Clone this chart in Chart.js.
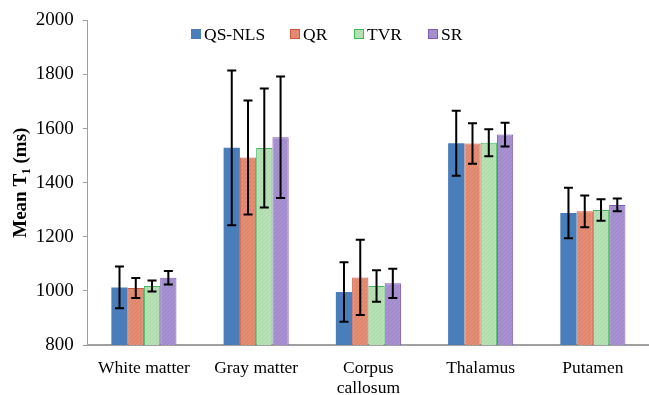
<!DOCTYPE html>
<html>
<head>
<meta charset="utf-8">
<script src="https://cdn.jsdelivr.net/npm/chart.js@4.4.0/dist/chart.umd.min.js"></script>
<style>
html,body{margin:0;padding:0;background:#ffffff;}
#wrap{width:649px;height:395px;position:relative;}
</style>
</head>
<body>
<div id="wrap"><canvas id="c" width="649" height="395"></canvas></div>
<script>
const categories = ["White matter", "Gray matter", ["Corpus", "callosum"], "Thalamus", "Putamen"];
const seriesNames = ["QS-NLS", "QR", "TVR", "SR"];
const qsnlsMean = [1013, 1529, 996, 1546, 1288];
const qsnlsErr  = [77, 286, 110, 120, 93];
const qrMean    = [1011, 1493, 1050, 1545, 1294];
const qrErr     = [37, 211, 139, 75, 59];
const tvrMean   = [1018, 1528, 1018, 1548, 1299];
const tvrErr    = [20, 220, 58, 50, 40];
const srMean    = [1049, 1568, 1028, 1578, 1318];
const srErr     = [25, 225, 54, 44, 24];
const yTicks    = [800, 1000, 1200, 1400, 1600, 1800, 2000];

const fills   = ["#4a7ebb", "#e38e74", "#b7e1b4", "#a791d0"];
const hatches = [null, "#da7c62", "#a5d9a4", "#9a83c6"];
const borders = ["#4a7ebb", "#d0573f", "#3fb85e", "#7c5bb5"];
const means = [qsnlsMean, qrMean, tvrMean, srMean];
const errs  = [qsnlsErr, qrErr, tvrErr, srErr];

const SERIF = "'Liberation Serif', serif";

function makePattern(base, line) {
  if (!line) return base;
  const c = document.createElement('canvas');
  c.width = 4; c.height = 4;
  const g = c.getContext('2d');
  g.fillStyle = base; g.fillRect(0, 0, 4, 4);
  g.strokeStyle = line; g.lineWidth = 0.8;
  g.beginPath();
  g.moveTo(0, 4); g.lineTo(4, 0);
  g.moveTo(-1, 1); g.lineTo(1, -1);
  g.moveTo(3, 5); g.lineTo(5, 3);
  g.stroke();
  return document.getElementById('c').getContext('2d').createPattern(c, 'repeat');
}

const errorBarPlugin = {
  id: 'errorBars',
  afterDatasetsDraw(chart) {
    const ctx = chart.ctx;
    const y = chart.scales.y;
    ctx.save();
    ctx.strokeStyle = '#000';
    ctx.lineWidth = 2;
    chart.data.datasets.forEach((ds, di) => {
      const meta = chart.getDatasetMeta(di);
      meta.data.forEach((bar, i) => {
        const m = ds.data[i], e = ds.errors[i];
        const x = bar.x;
        const yt = y.getPixelForValue(m + e);
        const yb = y.getPixelForValue(m - e);
        ctx.beginPath();
        ctx.moveTo(x, yt); ctx.lineTo(x, yb);
        ctx.moveTo(x - 4.5, yt); ctx.lineTo(x + 4.5, yt);
        ctx.moveTo(x - 4.5, yb); ctx.lineTo(x + 4.5, yb);
        ctx.stroke();
      });
    });
    ctx.restore();
  }
};

const legendPlugin = {
  id: 'customLegend',
  afterDraw(chart) {
    const ctx = chart.ctx;
    const positions = [191, 290, 354, 428];
    const yc = 34;
    ctx.save();
    ctx.font = "17.5px " + SERIF;
    ctx.textBaseline = 'middle';
    ctx.textAlign = 'left';
    chart.data.datasets.forEach((ds, i) => {
      const x = positions[i];
      ctx.fillStyle = ds.backgroundColor;
      ctx.fillRect(x, yc - 5, 10, 10);
      ctx.strokeStyle = ds.borderColor;
      ctx.lineWidth = 1;
      ctx.strokeRect(x + 0.5, yc - 4.5, 9, 9);
      ctx.fillStyle = '#000';
      ctx.fillText(ds.label, x + 13, yc + 1);
    });
    ctx.restore();
  }
};

new Chart(document.getElementById('c'), {
  type: 'bar',
  data: {
    labels: categories,
    datasets: seriesNames.map((name, i) => ({
      label: name,
      data: means[i],
      errors: errs[i],
      backgroundColor: makePattern(fills[i], hatches[i]),
      borderColor: borders[i],
      borderWidth: i === 0 ? 0 : 1,
      categoryPercentage: 0.58,
      barPercentage: 1.0
    }))
  },
  options: {
    responsive: false,
    animation: false,
    layout: { padding: { left: 3, right: 0, top: 9, bottom: 0 } },
    plugins: {
      legend: { display: false },
      tooltip: { enabled: false }
    },
    scales: {
      x: {
        afterFit(scale) { scale.height = 50; },
        grid: { display: false, drawTicks: false },
        border: { display: true, color: '#a0a0a0', width: 2 },
        ticks: { color: '#000', font: { family: SERIF, size: 17.5, lineHeight: 1.12 }, padding: 14, maxRotation: 0, autoSkip: false }
      },
      y: {
        min: 800, max: 2000,
        afterBuildTicks(scale) { scale.ticks = yTicks.map(v => ({ value: v })); },
        grid: { drawOnChartArea: false, drawTicks: true, tickLength: 5, color: '#a0a0a0' },
        border: { display: true, color: '#a0a0a0', width: 1 },
        ticks: { color: '#000', font: { family: SERIF, size: 19 }, padding: 9, callback: v => String(v) },
        title: { display: true, text: 'Mean T\u2081 (ms)', color: '#000', font: { family: SERIF, size: 19, weight: 'bold' }, padding: { top: 7, bottom: -6 } }
      }
    }
  },
  plugins: [errorBarPlugin, legendPlugin]
});
</script>
</body>
</html>
